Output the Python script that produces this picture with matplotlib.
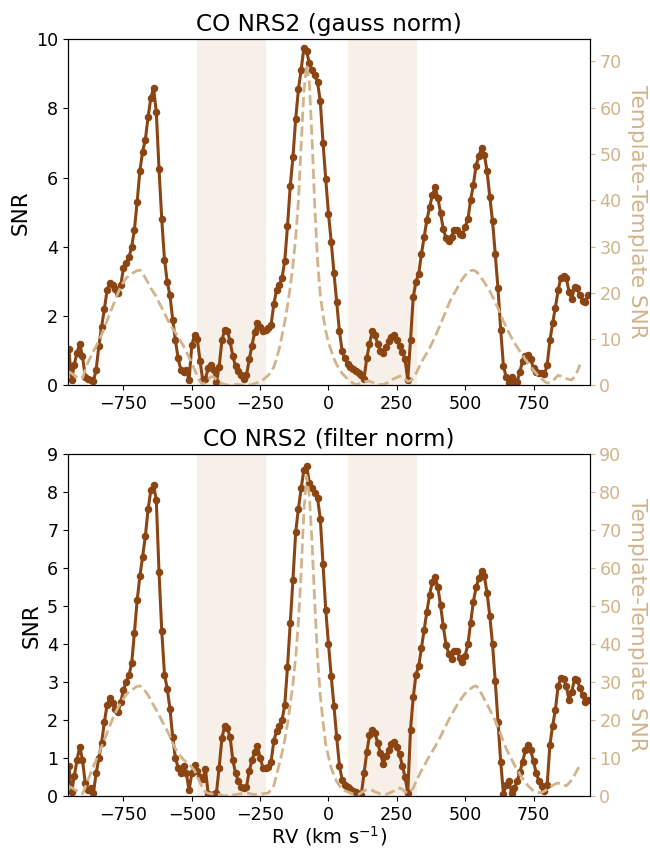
import numpy as np
import matplotlib.pyplot as plt

# radial velocity grid (km/s)
rv = np.arange(-950, 951, 10)

# CCF SNR, gaussian-normalised spectrum
snr_gauss = [
    1.05, 0.15, 0.6, 0.95, 1.2, 0.85, 0.25, 0.18, 0.15, 0.12,
    0.45, 1.15, 1.7, 2.2, 2.75, 2.95, 2.9, 2.78, 2.68, 2.9,
    3.38, 3.53, 3.7, 4.0, 4.5, 5.3, 6.2, 6.75, 7.1, 7.75,
    8.3, 8.59, 7.9, 6.25, 4.8, 3.63, 3.0, 2.6, 1.9, 1.3,
    0.78, 0.45, 0.4, 0.45, 0.15, 1.17, 1.46, 1.33, 0.72, 0.15,
    0.2, 0.5, 0.6, 0.45, 0.1, 0.54, 1.3, 1.6, 1.58, 1.27,
    0.85, 0.55, 0.42, 0.3, 0.2, 0.3, 0.75, 1.15, 1.55, 1.8,
    1.7, 1.56, 1.6, 1.65, 1.75, 2.35, 2.75, 2.9, 3.1, 3.6,
    4.6, 5.75, 6.6, 7.7, 8.55, 9.12, 9.75, 9.65, 9.3, 9.1,
    8.95, 8.75, 8.2, 7.0, 5.95, 4.95, 4.15, 3.25, 2.4, 1.56,
    1.0, 0.78, 0.62, 0.53, 0.48, 0.42, 0.37, 0.31, 0.2, 0.79,
    1.2, 1.56, 1.45, 1.2, 1.0, 0.95, 1.12, 1.27, 1.4, 1.45,
    1.3, 1.15, 0.98, 0.75, 0.16, 1.3, 2.55, 3.0, 3.22, 3.8,
    4.3, 4.78, 5.15, 5.5, 5.72, 5.42, 4.97, 4.52, 4.25, 4.18,
    4.3, 4.5, 4.5, 4.38, 4.35, 4.58, 4.8, 5.35, 5.8, 6.35,
    6.62, 6.86, 6.65, 6.2, 5.45, 4.75, 3.8, 2.8, 1.6, 0.56,
    0.24, 0.07, 0.25, 0.12, 0.1, 0.4, 0.7, 0.85, 0.88, 0.75,
    0.5, 0.4, 0.35, 0.35, 0.32, 0.6, 1.3, 1.8, 2.25, 2.75,
    3.1, 3.15, 3.1, 2.7, 2.5, 2.85, 2.8, 2.6, 2.45, 2.4,
    2.62,
]

# CCF SNR, filter-normalised spectrum
snr_filter = [
    0.78, 0.1, 0.52, 0.95, 1.3, 0.95, 0.35, 0.17, 0.2, 0.08,
    0.6, 1.0, 1.4, 1.95, 2.4, 2.58, 2.45, 2.3, 2.2, 2.47,
    2.8, 3.0, 3.18, 3.5, 4.3, 5.15, 5.8, 6.3, 6.85, 7.55,
    8.05, 8.2, 7.8, 5.9, 4.35, 3.2, 2.83, 2.3, 1.55, 1.0,
    0.75, 0.6, 0.78, 0.6, 0.15, 0.6, 0.82, 0.65, 0.5, 0.45,
    0.7, 0.05, 0.02, 0.05, 0.08, 0.75, 1.52, 1.85, 1.78, 1.55,
    0.95, 0.6, 0.4, 0.25, 0.2, 0.25, 0.65, 0.95, 1.15, 1.32,
    1.0, 0.75, 0.74, 0.77, 0.9, 1.45, 1.72, 1.85, 2.0, 2.4,
    3.4, 4.56, 5.7, 6.95, 7.57, 8.1, 8.6, 8.7, 8.25, 8.1,
    7.97, 7.84, 7.3, 6.1, 4.9, 4.0, 3.15, 2.37, 1.55, 0.8,
    0.42, 0.3, 0.23, 0.18, 0.12, 0.1, 0.06, 0.04, 0.6, 1.15,
    1.6, 1.73, 1.65, 1.4, 1.13, 0.85, 1.05, 1.2, 1.38, 1.43,
    1.3, 1.1, 0.8, 0.5, 0.08, 1.75, 2.6, 3.2, 3.42, 3.9,
    4.38, 4.86, 5.3, 5.65, 5.77, 5.5, 5.02, 4.47, 3.98, 3.75,
    3.6, 3.82, 3.83, 3.64, 3.52, 3.7, 4.0, 4.55, 5.12, 5.5,
    5.74, 5.92, 5.8, 5.35, 4.75, 4.0, 3.03, 1.95, 0.9, 0.05,
    0.3, 0.4, 0.08, 0.2, 0.39, 0.62, 0.9, 1.2, 1.34, 1.2,
    0.91, 0.6, 0.4, 0.27, 0.12, 0.3, 1.35, 1.85, 2.27, 2.9,
    3.1, 3.08, 2.9, 2.52, 2.75, 3.08, 3.05, 2.85, 2.65, 2.47,
    2.52,
]

# template-template SNR (runs to +920 km/s)
tt_gauss = [
    3.0, 2.6, 2.2, 1.8, 1.5, 1.6, 3.4, 5.0, 6.2, 7.4,
    8.5, 9.7, 11.0, 12.5, 14.0, 15.5, 17.0, 18.5, 20.0, 21.3,
    22.3, 23.2, 23.7, 24.1, 24.5, 24.8, 24.9, 24.3, 23.2, 22.2,
    21.0, 20.1, 19.2, 17.9, 16.8, 15.6, 14.4, 13.2, 12.3, 11.4,
    10.5, 9.5, 8.5, 7.3, 6.0, 4.9, 3.4, 2.0, 0.9, 0.2,
    0.7, 1.3, 1.9, 1.8, 1.3, 0.8, 0.4, 0.2, 0.1, 0.0,
    0.1, 0.2, 0.2, 0.1, 0.1, 0.1, 0.1, 0.2, 0.4, 0.6,
    0.9, 1.2, 1.7, 2.2, 3.0, 4.0, 5.8, 8.0, 10.8, 13.8,
    17.2, 21.3, 26.0, 32.0, 40.0, 52.0, 63.5, 69.3, 65.3, 53.0,
    38.5, 27.0, 19.5, 15.2, 11.8, 9.2, 7.5, 5.8, 4.5, 3.5,
    2.6, 2.0, 1.4, 0.9, 0.5, 0.2, 0.3, 0.5, 0.8, 0.9,
    0.9, 0.7, 0.5, 0.3, 0.2, 0.2, 0.4, 0.7, 1.1, 1.5,
    1.7, 2.0, 2.0, 1.4, 0.9, 1.0, 1.6, 2.6, 3.8, 5.0,
    6.1, 7.0, 8.1, 9.3, 10.5, 11.9, 13.3, 14.7, 16.1, 17.6,
    18.9, 19.9, 20.9, 22.1, 23.0, 23.8, 24.4, 24.8, 24.9, 24.6,
    24.0, 23.1, 22.3, 21.3, 20.4, 19.2, 18.0, 16.7, 15.2, 13.9,
    12.6, 11.4, 10.3, 9.2, 8.3, 7.4, 6.6, 5.6, 4.8, 4.1,
    3.3, 2.6, 1.9, 1.4, 0.9, 0.5, 0.7, 1.0, 1.6, 2.2,
    2.0, 1.7, 1.5, 1.3, 1.2, 1.9, 3.0, 4.5,
]

tt_filter = [
    2.6, 2.2, 1.8, 1.3, 0.8, 0.6, 2.3, 4.2, 6.0, 7.8,
    9.5, 11.2, 13.0, 14.8, 16.7, 18.5, 20.3, 21.9, 23.3, 24.6,
    25.7, 26.7, 27.5, 27.9, 28.4, 28.9, 29.0, 28.5, 27.6, 26.6,
    25.2, 23.9, 22.7, 21.4, 19.9, 18.5, 17.2, 15.7, 13.9, 12.5,
    11.3, 10.4, 9.5, 9.0, 8.4, 7.6, 6.7, 5.2, 3.5, 2.2,
    1.1, 0.7, 0.6, 0.5, 0.4, 0.4, 0.2, 0.0, 0.1, 0.2,
    0.3, 0.4, 0.5, 0.6, 0.7, 0.8, 0.7, 0.5, 0.4, 0.4,
    0.5, 0.6, 0.7, 0.8, 1.7, 2.8, 5.5, 8.5, 11.3, 14.8,
    19.0, 24.0, 29.6, 36.5, 46.0, 59.0, 75.0, 84.3, 79.0, 66.5,
    50.5, 36.5, 26.5, 19.5, 13.6, 10.3, 7.4, 5.4, 3.8, 2.7,
    1.7, 1.4, 1.1, 0.8, 0.6, 0.5, 0.4, 0.9, 1.4, 1.6,
    1.7, 1.5, 1.1, 0.8, 0.6, 0.5, 0.4, 0.7, 1.0, 1.4,
    1.8, 2.1, 1.8, 1.1, 0.8, 1.3, 2.1, 3.8, 5.3, 6.7,
    8.0, 9.3, 10.6, 11.8, 13.0, 14.3, 15.7, 17.2, 18.6, 20.1,
    21.4, 22.7, 23.9, 25.0, 26.1, 27.0, 27.7, 28.3, 28.8, 29.0,
    28.3, 26.9, 25.5, 24.2, 22.8, 21.3, 19.9, 18.0, 16.3, 14.3,
    12.5, 11.1, 9.6, 8.2, 7.0, 5.7, 4.6, 3.6, 2.7, 2.0,
    1.3, 1.1, 0.9, 0.9, 1.3, 1.8, 2.3, 2.8, 3.2, 3.4,
    3.2, 2.9, 2.7, 3.4, 4.3, 5.5, 6.9, 8.1,
]

# masked velocity windows
windows = [(-481, -230), (70, 322)]

panels = [
    ("CO NRS2 (gauss norm)", snr_gauss, tt_gauss, 10, 74.8, [0, 2, 4, 6, 8, 10], range(0, 71, 10)),
    ("CO NRS2 (filter norm)", snr_filter, tt_filter, 9, 90, range(0, 10), range(0, 91, 10)),
]
boxes = [[0.1046, 0.5465, 0.8024, 0.4075], [0.1046, 0.0635, 0.8024, 0.402]]

fig = plt.figure(figsize=(6.5, 8.5), dpi=100)

for box, (title, snr, tt, ymax, ymax2, yt, yt2) in zip(boxes, panels):
    ax = fig.add_axes(box)
    for lo, hi in windows:
        ax.axvspan(lo, hi, color="tan", alpha=0.2, lw=0)
    ax.plot(rv, snr, "o-", color="#8B4513", lw=2.2, ms=4.4)
    ax.set_xlim(-953, 955)
    ax.set_ylim(0, ymax)
    ax.set_yticks(yt)
    ax.set_xticks([-750, -500, -250, 0, 250, 500, 750])
    ax.set_ylabel("SNR", fontsize=15.5)
    ax.set_title(title, fontsize=16.7)
    ax.tick_params(labelsize=12.6)

    ax2 = ax.twinx()
    ax2.plot(rv[:len(tt)], tt, "--", color="tan", lw=2)
    ax2.set_ylim(0, ymax2)
    ax2.set_yticks(yt2)
    ax2.tick_params(axis="y", colors="tan", labelsize=12.6)
    ax2.set_ylabel("Template-Template SNR", color="tan", fontsize=15.5,
                   rotation=270, labelpad=18)

ax.set_xlabel("RV (km s$^{-1}$)", fontsize=14, labelpad=0.5)

fig.savefig("out.png", dpi=100)
